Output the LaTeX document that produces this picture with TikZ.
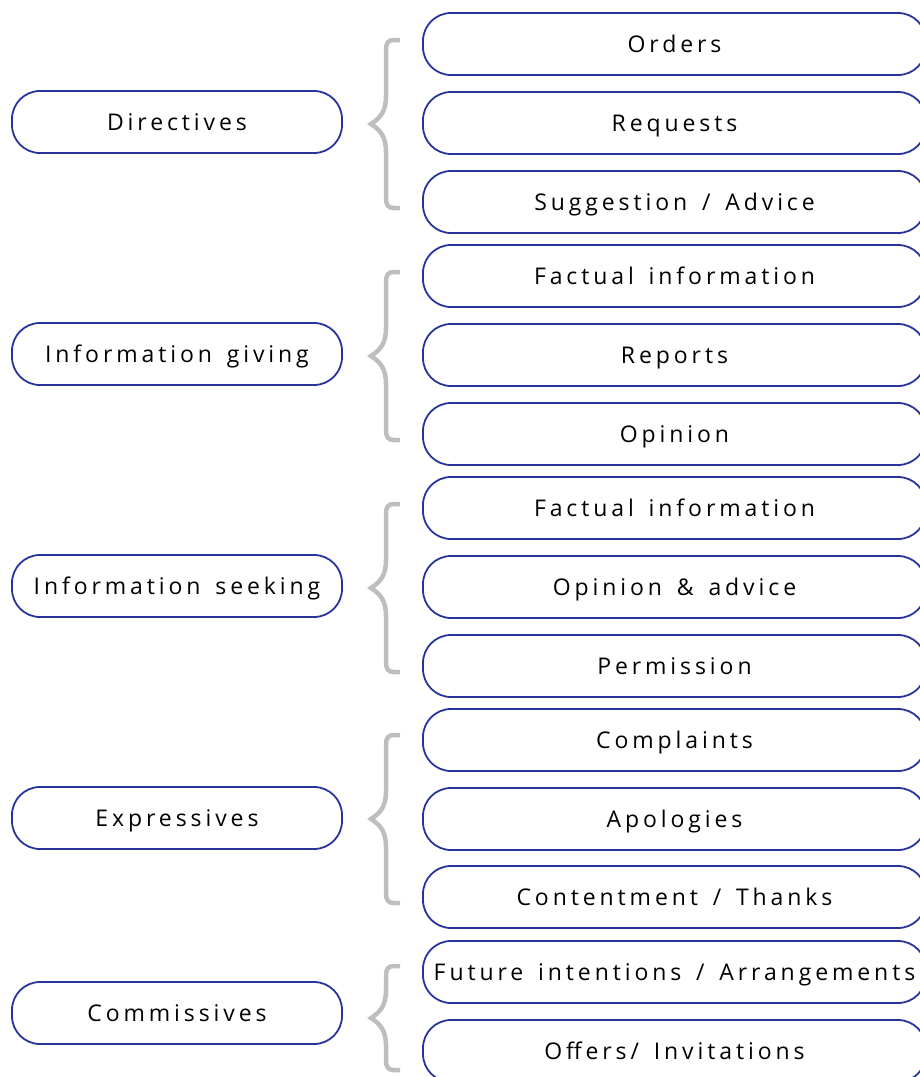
\documentclass[tikz,border=0pt]{standalone}
\usepackage{fontspec}
\setmainfont{Open Sans}[LetterSpace=17,WordSpace=1.5]
\definecolor{boxblue}{RGB}{40,52,155}
\definecolor{bracegray}{RGB}{190,190,190}
\newcommand\groupbrace[2]{% top y, bottom y
  \pgfmathsetmacro\bc{(#1+#2)/2}
  \draw[bracegray,line width=4.5pt]
    (400,#1) -- (394,#1) .. controls (388,#1) and (386,#1+3) .. (386,#1+10)
    -- (386,\bc-28) .. controls (386,\bc-12) and (380,\bc-6) .. (371,\bc)
    .. controls (380,\bc+6) and (386,\bc+12) .. (386,\bc+28)
    -- (386,#2-10) .. controls (386,#2-3) and (388,#2) .. (394,#2) -- (400,#2);
}
\begin{document}
\begin{tikzpicture}[x=1pt,y=-1pt,
  pill/.style={draw=boxblue,line width=1.8pt,rounded corners=28pt,
    minimum height=62pt,inner sep=0pt,font=\fontsize{23}{27}\selectfont,
    text height=21.5pt,text depth=5pt},
  lbox/.style={pill,minimum width=330pt},
  rbox/.style={pill,minimum width=503pt}]
\useasboundingbox (0,0) rectangle (919,1077);
% categories
\node[lbox] (L1) at (177,122) {Directives};
\node[lbox] (L2) at (177,354) {Information giving};
\node[lbox] (L3) at (177,586) {Information seeking};
\node[lbox] (L4) at (177,818) {Expressives};
\node[lbox] (L5) at (177,1013) {Commissives};
% sub-types
\node[rbox] (R1)  at (674.5,44)  {Orders};
\node[rbox] (R2)  at (674.5,123) {Requests};
\node[rbox] (R3)  at (674.5,202) {Suggestion / Advice};
\node[rbox] (R4)  at (674.5,276) {Factual information};
\node[rbox] (R5)  at (674.5,355) {Reports};
\node[rbox] (R6)  at (674.5,434) {Opinion};
\node[rbox] (R7)  at (674.5,508) {Factual information};
\node[rbox] (R8)  at (674.5,587) {Opinion \& advice};
\node[rbox] (R9)  at (674.5,666) {Permission};
\node[rbox] (R10) at (674.5,740) {Complaints};
\node[rbox] (R11) at (674.5,819) {Apologies};
\node[rbox] (R12) at (674.5,897) {Contentment / Thanks};
\node[rbox] (R13) at (674.5,972) {Future intentions / Arrangements};
\node[rbox] (R14) at (674.5,1051) {Offers/ Invitations};
% braces
\groupbrace{40}{208}
\groupbrace{272}{440}
\groupbrace{504}{672}
\groupbrace{735}{903}
\groupbrace{966}{1070}
\end{tikzpicture}
\end{document}
